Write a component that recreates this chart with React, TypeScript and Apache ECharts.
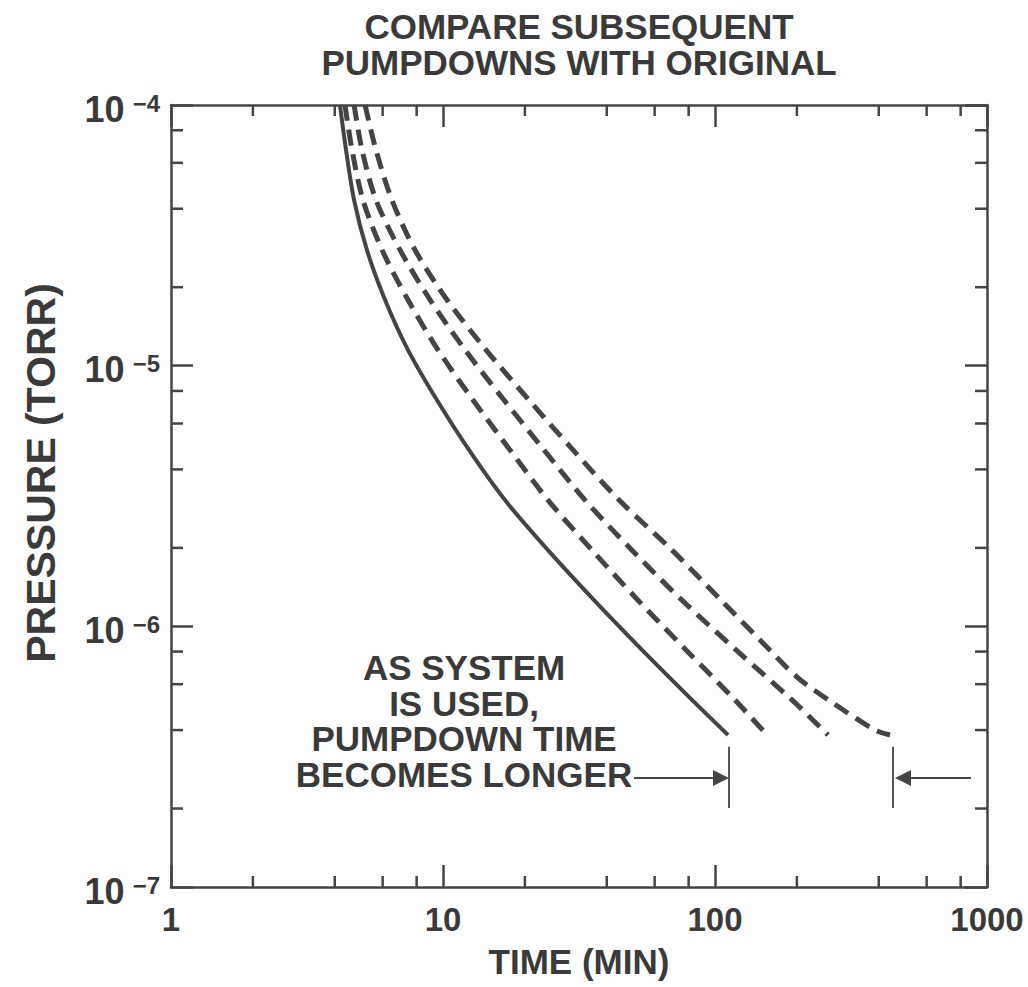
import React, { useEffect, useRef } from 'react';
import * as echarts from 'echarts';

// ---- data ----
const xMinorTicks = [2, 4, 6, 8, 20, 40, 60, 80, 200, 400, 600, 800];
const yMinorTicks = [2e-7, 4e-7, 6e-7, 8e-7, 2e-6, 4e-6, 6e-6, 8e-6, 2e-5, 4e-5, 6e-5, 8e-5];

const originalTime = [4.18, 4.4, 4.71, 5.25, 6.12, 7.43, 9.5, 12.46, 16.9, 24.32, 35.92, 53.9, 82.3, 111.6];
const originalPressure = [1e-4, 6.72e-5, 4.32e-5, 2.78e-5, 1.79e-5, 1.15e-5, 7.38e-6, 4.75e-6, 3.05e-6, 1.96e-6, 1.26e-6, 8.12e-7, 5.22e-7, 3.83e-7];

const pumpdown2Time = [4.36, 4.63, 5.08, 5.97, 7.43, 9.58, 12.89, 17.63, 24.32, 35.3, 52.1, 78.2, 118.4, 155.3];
const pumpdown2Pressure = [1e-4, 6.72e-5, 4.32e-5, 2.78e-5, 1.79e-5, 1.15e-5, 7.38e-6, 4.75e-6, 3.05e-6, 1.96e-6, 1.26e-6, 8.12e-7, 5.22e-7, 3.83e-7];

const pumpdown3Time = [4.71, 5.04, 5.67, 6.95, 8.96, 12.05, 16.76, 23.51, 33.27, 49.5, 75.6, 119.5, 191.9, 260.3];
const pumpdown3Pressure = [1e-4, 6.72e-5, 4.32e-5, 2.78e-5, 1.79e-5, 1.15e-5, 7.38e-6, 4.75e-6, 3.05e-6, 1.96e-6, 1.26e-6, 8.12e-7, 5.22e-7, 3.83e-7];

const pumpdown4Time = [5.17, 5.67, 6.49, 7.89, 10.34, 14.39, 20.71, 30.06, 44.4, 69.5, 105.2, 146.3, 200.2, 271.6, 387.5, 440];
const pumpdown4Pressure = [1e-4, 6.72e-5, 4.32e-5, 2.78e-5, 1.79e-5, 1.15e-5, 7.38e-6, 4.75e-6, 3.05e-6, 1.96e-6, 1.26e-6, 8.87e-7, 6.39e-7, 5.08e-7, 4.0e-7, 3.83e-7];

// annotation markers (time, pressure)
const markerBarTimes = [112.5, 451];
const markerBarPressure = [3.45e-7, 2.01e-7];
const arrowPressure = 2.62e-7;
const leftArrowTime = [50.4, 105.2];
const rightArrowTime = [873, 491];

const titleLines = ['COMPARE SUBSEQUENT', 'PUMPDOWNS WITH ORIGINAL'];
const noteLines = ['AS SYSTEM', 'IS USED,', 'PUMPDOWN TIME', 'BECOMES LONGER'];
const xAxisName = 'TIME (MIN)';
const yAxisName = 'PRESSURE (TORR)';

const FONT = "'Liberation Sans', Arial, Helvetica, sans-serif";
const INK = '#3a3a3a';
const LINE = '#444444';

const zip = (a: number[], b: number[]) => a.map((v, i) => [v, b[i]]);

export default function App() {
  const ref = useRef<HTMLDivElement>(null);
  useEffect(() => {
    if (!ref.current) return;
    const chart = echarts.init(ref.current, undefined, { renderer: 'svg' });

    const axisLine = { show: true, lineStyle: { color: LINE, width: 2.5 } };
    const majorTick = { show: true, inside: true, length: 22, lineStyle: { color: LINE, width: 2.5 } };

    const tickLine = (x1: number, y1: number, x2: number, y2: number) => ({
      type: 'line',
      shape: { x1, y1, x2, y2 },
      style: { stroke: LINE, lineWidth: 2.5 },
    });

    const dashed = { color: LINE, width: 5, type: [16, 9], cap: 'butt' };

    const stackedText = (lines: string[], cx: number, firstY: number, step: number, fontSize: number) =>
      lines.map((line, i) => ({
        type: 'text', x: cx, y: firstY + i * step,
        style: {
          text: line, align: 'center', verticalAlign: 'middle',
          fontFamily: FONT, fontWeight: 'bold', fontSize, lineHeight: fontSize, fill: INK,
        },
      }));

    const option: any = {
      animation: false,
      backgroundColor: '#fdfdfd',
      grid: { left: 171, right: 41, top: 105, bottom: 100, containLabel: false },
      xAxis: [
        {
          type: 'log', logBase: 10, min: 1, max: 1000, position: 'bottom',
          axisLine, axisTick: majorTick, splitLine: { show: false }, minorTick: { show: false },
          axisLabel: {
            margin: 16, color: INK, fontFamily: FONT, fontWeight: 'bold', fontSize: 33,
            formatter: (v: number) => String(Math.round(v)),
          },
          name: xAxisName, nameLocation: 'middle', nameGap: 57,
          nameTextStyle: { color: INK, fontFamily: FONT, fontWeight: 'bold', fontSize: 35 },
        },
        {
          type: 'log', logBase: 10, min: 1, max: 1000, position: 'top',
          axisLine, axisTick: majorTick, axisLabel: { show: false }, splitLine: { show: false },
        },
      ],
      yAxis: [
        {
          type: 'log', logBase: 10, min: 1e-7, max: 1e-4, position: 'left',
          axisLine, axisTick: majorTick, splitLine: { show: false },
          axisLabel: {
            margin: 11, color: INK, fontFamily: FONT, fontWeight: 'bold',
            padding: [8, 0, 0, 0],
            formatter: (v: number) => `{b|10}{s|\u2212${Math.abs(Math.round(Math.log10(v)))}}`,
            rich: {
              b: { fontFamily: FONT, fontWeight: 'bold', fontSize: 36, lineHeight: 36, color: INK, verticalAlign: 'bottom' },
              s: { fontFamily: FONT, fontWeight: 'bold', fontSize: 24, lineHeight: 24, color: INK, verticalAlign: 'top', padding: [0, 0, 0, 8] },
            },
          },
        },
        {
          type: 'log', logBase: 10, min: 1e-7, max: 1e-4, position: 'right',
          axisLine, axisTick: majorTick, axisLabel: { show: false }, splitLine: { show: false },
        },
      ],
      graphic: [
        ...stackedText(titleLines, 579, 26.5, 35.5, 35),
        ...stackedText(noteLines, 464, 667.5, 35.7, 35),
        {
          type: 'text', x: 41, y: 473, rotation: Math.PI / 2,
          style: {
            text: yAxisName, align: 'center', verticalAlign: 'middle',
            fontFamily: FONT, fontWeight: 'bold', fontSize: 41, fill: INK,
          },
        },
      ],
      series: [
        {
          name: 'original', type: 'line', data: zip(originalTime, originalPressure),
          showSymbol: false, smooth: 0.3, lineStyle: { color: LINE, width: 4, type: 'solid' },
        },
        {
          name: 'pumpdown 2', type: 'line', data: zip(pumpdown2Time, pumpdown2Pressure),
          showSymbol: false, smooth: 0.3, lineStyle: dashed,
        },
        {
          name: 'pumpdown 3', type: 'line', data: zip(pumpdown3Time, pumpdown3Pressure),
          showSymbol: false, smooth: 0.3, lineStyle: dashed,
        },
        {
          name: 'pumpdown 4', type: 'line', data: zip(pumpdown4Time, pumpdown4Pressure),
          showSymbol: false, smooth: 0.3, lineStyle: dashed,
        },
        {
          type: 'lines', coordinateSystem: 'cartesian2d', symbol: 'none',
          lineStyle: { color: LINE, width: 1.8, opacity: 1 },
          data: markerBarTimes.map((t) => ({ coords: [[t, markerBarPressure[0]], [t, markerBarPressure[1]]] })),
        },
        {
          type: 'lines', coordinateSystem: 'cartesian2d', symbol: ['none', 'triangle'], symbolSize: [8, 16],
          lineStyle: { color: LINE, width: 1.8, opacity: 1 },
          data: [
            { coords: [[leftArrowTime[0], arrowPressure], [leftArrowTime[1], arrowPressure]] },
            { coords: [[rightArrowTime[0], arrowPressure], [rightArrowTime[1], arrowPressure]] },
          ],
        },
        {
          type: 'custom', name: 'x minor ticks', silent: true,
          data: xMinorTicks.map((v) => [v, 1e-7]),
          renderItem: (params: any, api: any) => {
            const v = api.value(0);
            const b = api.coord([v, 1e-7]);
            const t = api.coord([v, 1e-4]);
            return {
              type: 'group',
              children: [tickLine(b[0], b[1], b[0], b[1] - 11), tickLine(t[0], t[1], t[0], t[1] + 11)],
            };
          },
        },
        {
          type: 'custom', name: 'y minor ticks', silent: true,
          data: yMinorTicks.map((v) => [1, v]),
          renderItem: (params: any, api: any) => {
            const v = api.value(1);
            const l = api.coord([1, v]);
            const r = api.coord([1000, v]);
            return {
              type: 'group',
              children: [tickLine(l[0], l[1], l[0] + 12, l[1]), tickLine(r[0], r[1], r[0] - 12, r[1])],
            };
          },
        },
      ],
    };

    chart.setOption(option);
    return () => chart.dispose();
  }, []);

  return (
    <div
      ref={ref}
      style={{ position: 'fixed', left: 0, top: 0, width: 1028, height: 987 }}
    />
  );
}
